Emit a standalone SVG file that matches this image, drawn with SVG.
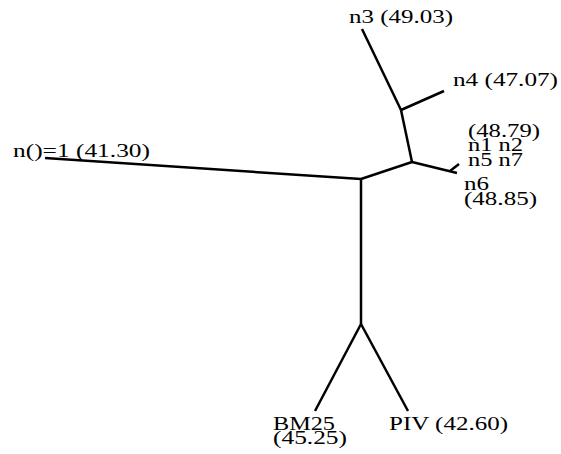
<svg xmlns="http://www.w3.org/2000/svg" width="561" height="454" viewBox="0 0 561 454">
<style>
.e{stroke:#000;stroke-width:2.5;fill:none;stroke-linecap:butt}
text{font-family:"Liberation Serif","Times New Roman",serif;font-size:19px;fill:#000}
</style>
<rect width="561" height="454" fill="#fff"/>
<g id="connectors">
<line class="e" x1="361" y1="179" x2="45" y2="158"/>
<line class="e" x1="361" y1="179" x2="412" y2="162"/>
<line class="e" x1="361" y1="179" x2="361" y2="324"/>
<line class="e" x1="361" y1="324" x2="315" y2="411"/>
<line class="e" x1="361" y1="324" x2="408" y2="411"/>
<line class="e" x1="412" y1="162" x2="401" y2="110"/>
<line class="e" x1="401" y1="110" x2="362" y2="29"/>
<line class="e" x1="401" y1="110" x2="444" y2="91"/>
<line class="e" x1="412" y1="162" x2="457" y2="173"/>
<line class="e" x1="450" y1="171" x2="459" y2="164"/>
</g>
<g id="node-n3"><text x="349" y="23" textLength="104" lengthAdjust="spacingAndGlyphs">n3 (49.03)</text></g>
<g id="node-n4"><text x="453" y="86" textLength="105" lengthAdjust="spacingAndGlyphs">n4 (47.07)</text></g>
<g id="node-group">
<text x="468" y="137" textLength="72" lengthAdjust="spacingAndGlyphs">(48.79)</text>
<text x="468" y="151" textLength="55" lengthAdjust="spacingAndGlyphs">n1 n2</text>
<text x="468" y="166" textLength="55" lengthAdjust="spacingAndGlyphs">n5 n7</text>
</g>
<g id="node-n6">
<text x="464" y="190" textLength="25" lengthAdjust="spacingAndGlyphs">n6</text>
<text x="464" y="205" textLength="73" lengthAdjust="spacingAndGlyphs">(48.85)</text>
</g>
<g id="node-n1"><text x="13" y="157" textLength="137" lengthAdjust="spacingAndGlyphs">n()=1 (41.30)</text></g>
<g id="node-BM25">
<text x="273" y="430" textLength="62" lengthAdjust="spacingAndGlyphs">BM25</text>
<text x="273" y="444" textLength="74" lengthAdjust="spacingAndGlyphs">(45.25)</text>
</g>
<g id="node-PIV"><text x="389" y="430" textLength="119" lengthAdjust="spacingAndGlyphs">PIV (42.60)</text></g>
</svg>
